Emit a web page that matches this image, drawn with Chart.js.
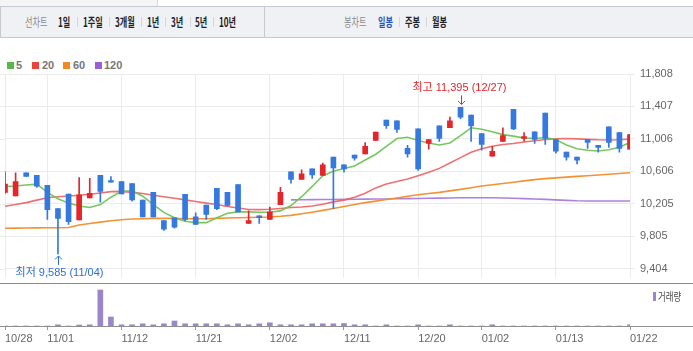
<!DOCTYPE html>
<html><head><meta charset="utf-8">
<script src="https://cdn.jsdelivr.net/npm/chart.js@4.4.1/dist/chart.umd.min.js"></script>
<style>
body{margin:0;width:693px;height:351px;overflow:hidden;background:#fff;position:relative;font-family:"Liberation Sans","Noto Sans CJK KR",sans-serif}
.a{position:absolute}
.t{position:absolute;top:15px;font-size:12.5px;line-height:14px;white-space:nowrap;transform:scaleX(.65);transform-origin:0 50%;font-family:"Noto Sans CJK KR",sans-serif}
.b{font-weight:bold;color:#222}
.g{color:#8a8a8a}
.s{position:absolute;top:17px;height:10px;width:1px;background:#d3d6db}
.lg{position:absolute;top:58px;font-size:11px;line-height:14px;font-weight:bold;color:#777}
.sq{position:absolute;top:62px;width:7px;height:7px}
canvas{position:absolute;left:0}
</style></head><body>
<div class="a" style="left:0;top:0;width:157px;height:6px;background:#f5f5f5;border-right:1px solid #d8d8d8"></div>
<div class="a" style="left:0;top:6px;width:692px;height:30px;background:#eff1f5;border:1px solid #c6cad0;border-right:none"></div>
<div class="a" style="left:264px;top:7px;width:1px;height:30px;background:#c6cad0"></div>
<span class="t g" style="left:25px">선차트</span>
<span class="t b" style="left:58px">1일</span><i class="s" style="left:77px"></i>
<span class="t b" style="left:83px">1주일</span><i class="s" style="left:109px"></i>
<span class="t b" style="left:115px">3개월</span><i class="s" style="left:141px"></i>
<span class="t b" style="left:147px">1년</span><i class="s" style="left:165px"></i>
<span class="t b" style="left:171px">3년</span><i class="s" style="left:190px"></i>
<span class="t b" style="left:195px">5년</span><i class="s" style="left:213px"></i>
<span class="t b" style="left:219px">10년</span>
<span class="t g" style="left:344px">봉차트</span>
<span class="t b" style="left:378px;color:#2a55b8">일봉</span><i class="s" style="left:399px"></i>
<span class="t b" style="left:405px">주봉</span><i class="s" style="left:426px"></i>
<span class="t b" style="left:432px">월봉</span>

<i class="sq" style="left:7px;background:#56b947"></i><span class="lg" style="left:16px">5</span>
<i class="sq" style="left:32px;background:#e8473f"></i><span class="lg" style="left:42px">20</span>
<i class="sq" style="left:63px;background:#f08a22"></i><span class="lg" style="left:73px">60</span>
<i class="sq" style="left:95px;background:#9b5fd0"></i><span class="lg" style="left:104px">120</span>

<canvas id="price" width="693" height="290" style="top:0"></canvas>
<canvas id="vol" width="693" height="67" style="top:284px"></canvas>
<div class="a" style="left:0;top:283px;width:693px;height:1px;background:#8a8a8a"></div>
<div class="a" style="left:0;top:326px;width:693px;height:1px;background:#8f8f8f"></div>
<i class="a" style="left:653px;top:292px;width:3px;height:9px;background:#9a86c9"></i>
<span class="a" style="left:658px;top:289px;font-size:11px;line-height:14px;color:#444;transform:scaleX(.76);transform-origin:0 50%;font-family:'Noto Sans CJK KR',sans-serif;white-space:nowrap">거래량</span>
<script>
const dates = ['10/28','10/29','10/30','10/31',
 '11/01','11/04','11/05','11/06','11/07','11/08','11/11',
 '11/12','11/13','11/14','11/15','11/18','11/19','11/20',
 '11/21','11/22','11/25','11/26','11/27','11/28','11/29',
 '12/02','12/03','12/04','12/05','12/06','12/09','12/10',
 '12/11','12/12','12/13','12/16','12/17','12/18','12/19',
 '12/20','12/23','12/24','12/26','12/27','12/30',
 '01/02','01/03','01/06','01/07','01/08','01/09','01/10',
 '01/13','01/14','01/15','01/16','01/17','01/20','01/21',
 '01/22'];
const tickDates = ['10/28','11/01','11/12','11/21','12/02','12/11','12/20','01/02','01/13','01/22'];
const priceTicks = [9404, 9805, 10205, 10606, 11006, 11407, 11808];

const openP  = [10346,10302,10588,10555,10434,10145,10326,10004,10277,10555,
                10491,10479,10455,10250,10346,9996,10032,10322,10044,10189,
                10395,10346,10443,9963,10056,10012,10193,10600,10507,10636,
                10555,10781,10685,10805,10821,10987,11240,11228,10890,11131,
                10950,11168,11144,11395,11301,11071,10793,10975,11373,11011,
                11095,11325,10999,10842,10781,10999,10926,11156,11083,10878];
const highP  = [10600,10588,10588,10555,10434,10145,10326,10528,10519,10555,
                10540,10479,10455,10250,10346,9996,10032,10322,10093,10189,
                10395,10346,10443,10117,10056,10165,10407,10600,10624,10636,
                10709,10781,10685,10805,10962,11092,11240,11228,10926,11131,
                10999,11168,11276,11395,11301,11071,10914,11144,11373,11083,
                11095,11325,10999,10842,10781,10999,10926,11156,11083,11059];
const lowP   = [10334,10302,10543,10407,10012,9585,9951,10004,10277,10226,
                10471,10326,10238,10044,10044,9875,9903,9992,9951,10012,
                10132,10174,10105,9963,9963,10012,10193,10459,10507,10519,
                10555,10145,10596,10745,10821,10987,11135,11087,10781,10616,
                10878,10975,11144,11256,10975,10866,10793,10975,11119,10978,
                10950,10938,10830,10745,10697,10890,10842,10902,10842,10878];
const closeP = [10447,10479,10543,10422,10132,10024,9984,10314,10334,10358,
                10471,10326,10253,10044,10044,9891,9915,10012,9951,10072,
                10145,10185,10105,9996,10032,10105,10346,10507,10576,10560,
                10685,10648,10636,10769,10914,11092,11171,11123,10821,10636,
                10999,11011,11228,11276,11168,10938,10854,11047,11131,11035,
                10999,11011,10854,10781,10745,10962,10902,10962,10890,11059];

const ma5   = [10419,10425,10437,10447,10346,10268,10213,10177,10159,10195,
               10286,10358,10364,10298,10195,10099,10032,9990,9972,9972,
               10032,10087,10105,10105,10101,10101,10117,10183,10292,10419,
               10552,10608,10640,10672,10745,10817,10914,11011,11026,10987,
               10956,10932,10956,11047,11144,11125,11095,11059,11041,11017,
               11011,11023,10999,10932,10884,10866,10857,10872,10902,10962];
const ma20  = [10174,10195,10219,10250,10280,10292,10300,10310,10322,10338,
               10355,10358,10346,10331,10310,10292,10274,10253,10232,10213,
               10195,10171,10153,10135,10133,10137,10147,10159,10165,10177,
               10198,10228,10250,10286,10334,10401,10449,10479,10512,10552,
               10594,10642,10709,10775,10842,10884,10916,10938,10950,10968,
               10983,10999,11007,11011,11007,11001,10995,10993,10996,11005];
const ma60  = [9903,9904,9905,9907,9908,9909,9911,9942,9962,9978,
               9996,10008,10017,10020,10024,10026,10024,10020,10020,10020,
               10024,10029,10032,10035,10038,10042,10050,10062,10081,10101,
               10123,10147,10171,10195,10219,10238,10258,10277,10298,10316,
               10331,10346,10364,10383,10403,10425,10439,10455,10471,10488,
               10503,10515,10525,10534,10543,10552,10560,10570,10579,10588];
const ma120 = [null,null,null,null,null,null,null,null,null,null,
               null,null,null,null,null,null,null,null,null,null,
               null,null,null,null,null,null,null,10253,10254,10256,
               10257,10258,10259,10261,10262,10263,10264,10267,10268,10270,
               10273,10275,10277,10279,10280,10280,10279,10276,10273,10269,
               10264,10259,10253,10247,10242,10240,10239,10239,10240,10240];
const volume = [0,0,0,0,0,1200,0,1000,1200,36000,
                9000,1200,1200,2200,1200,2200,5000,2200,2200,2200,
                2200,1200,2200,1200,2200,3200,1200,1200,1200,2200,
                2200,2200,2500,1200,1200,0,1200,0,0,1200,
                0,0,1200,0,0,0,1200,0,0,0,
                0,0,0,0,0,0,0,0,0,1200];

const FONT = '"Liberation Sans","Noto Sans CJK KR",sans-serif';
Chart.defaults.font.family = FONT;
const UP = '#e3262b', DOWN = '#3478e0';
const candleColors = openP.map((o, i) => closeP[i] >= o ? UP : DOWN);
const fmt = v => String(Math.round(v)).replace(/\B(?=(\d{3})+(?!\d))/g, ',');
const isTick = i => tickDates.includes(dates[i]);
const CLEAR = 'rgba(0,0,0,0)';

const annot = {
  id: 'annot',
  beforeDatasetsDraw(chart) {
    const {ctx, chartArea, scales: {y}} = chart;
    ctx.save();
    ctx.strokeStyle = '#ebebeb';
    ctx.lineWidth = 1;
    ctx.beginPath();
    priceTicks.forEach(v => {
      const py = Math.round(y.getPixelForValue(v)) + 0.5;
      ctx.moveTo(0, py); ctx.lineTo(chartArea.left, py);
    });
    ctx.stroke();
    ctx.restore();
  },
  afterDatasetsDraw(chart) {
    const {ctx, scales: {x, y}} = chart;
    let hi = 0, lo = 0;
    highP.forEach((v, i) => { if (v > highP[hi]) hi = i; });
    lowP.forEach((v, i) => { if (v < lowP[lo]) lo = i; });
    ctx.save();
    ctx.font = '11px ' + FONT;
    ctx.textAlign = 'center';
    ctx.textBaseline = 'middle';
    ctx.lineWidth = 1;
    let px = Math.round(x.getPixelForValue(hi)) + 0.5, py = y.getPixelForValue(highP[hi]);
    ctx.fillStyle = ctx.strokeStyle = '#e4262b';
    ctx.fillText('최고 ' + fmt(highP[hi]) + ' (' + dates[hi] + ')', px - 2, py - 19);
    ctx.beginPath();
    ctx.moveTo(px, py - 12); ctx.lineTo(px, py - 3);
    ctx.moveTo(px - 3.5, py - 6.5); ctx.lineTo(px, py - 3); ctx.lineTo(px + 3.5, py - 6.5);
    ctx.stroke();
    px = Math.round(x.getPixelForValue(lo)) + 0.5; py = y.getPixelForValue(lowP[lo]);
    ctx.fillStyle = ctx.strokeStyle = '#2d6fd6';
    ctx.fillText('최저 ' + fmt(lowP[lo]) + ' (' + dates[lo] + ')', px + 1, py + 19);
    ctx.beginPath();
    ctx.moveTo(px, py + 11); ctx.lineTo(px, py + 2);
    ctx.moveTo(px - 3.5, py + 5.5); ctx.lineTo(px, py + 2); ctx.lineTo(px + 3.5, py + 5.5);
    ctx.stroke();
    ctx.restore();
  }
};

const lineDs = (data, color, order) => ({
  type: 'line', data, borderColor: color, borderWidth: 1.6, pointRadius: 0,
  tension: 0, order, spanGaps: false
});

new Chart(document.getElementById('price'), {
  type: 'bar',
  data: {
    labels: dates,
    datasets: [
      {type: 'bar', data: dates.map((d, i) => [openP[i], closeP[i]]), backgroundColor: candleColors,
       barThickness: 5, grouped: false, order: 0, minBarLength: 1},
      {type: 'bar', data: dates.map((d, i) => [lowP[i], highP[i]]), backgroundColor: candleColors,
       barThickness: 1, grouped: false, order: 1},
      lineDs(ma5, 'rgba(112,196,86,0.95)', 2),
      lineDs(ma20, 'rgba(236,96,96,0.9)', 3),
      lineDs(ma60, 'rgba(242,140,40,0.95)', 4),
      lineDs(ma120, 'rgba(165,115,215,0.9)', 5)
    ]
  },
  options: {
    responsive: false, animation: false,
    layout: {padding: {top: 74, bottom: 7, left: 5, right: 0}},
    plugins: {legend: {display: false}, tooltip: {enabled: false}},
    scales: {
      x: {
        offset: false,
        ticks: {display: false},
        grid: {offset: false, drawTicks: false, color: c => (c.tick && isTick(c.tick.value)) ? '#ebebeb' : CLEAR},
        border: {display: false}
      },
      y: {
        position: 'right', min: 9283, max: 11808,
        afterBuildTicks: s => { s.ticks = priceTicks.map(v => ({value: v})); },
        afterFit: s => { s.width = 63; },
        ticks: {color: '#666', font: {size: 11}, padding: 5, callback: v => fmt(v)},
        grid: {color: '#ebebeb', tickLength: 5},
        border: {display: false}
      }
    }
  },
  plugins: [annot]
});

new Chart(document.getElementById('vol'), {
  type: 'bar',
  data: {
    labels: dates,
    datasets: [{data: volume, backgroundColor: '#9a86c9', barThickness: 5}]
  },
  options: {
    responsive: false, animation: false,
    layout: {padding: {top: 3, left: 5, right: 63, bottom: 0}},
    plugins: {legend: {display: false}, tooltip: {enabled: false}},
    scales: {
      x: {
        offset: false,
        afterFit: s => { s.height = 25; },
        grid: {offset: false, drawOnChartArea: false, tickLength: 4,
               tickColor: c => (c.tick && isTick(c.tick.value)) ? '#999' : CLEAR},
        border: {display: false},
        ticks: {autoSkip: false, maxRotation: 0, minRotation: 0, align: 'start', padding: 2,
                color: '#666', font: {size: 11},
                callback: (v) => isTick(v) ? dates[v] : ''}
      },
      y: {display: false, min: 0, max: 39000}
    }
  }
});
</script>
</body></html>
